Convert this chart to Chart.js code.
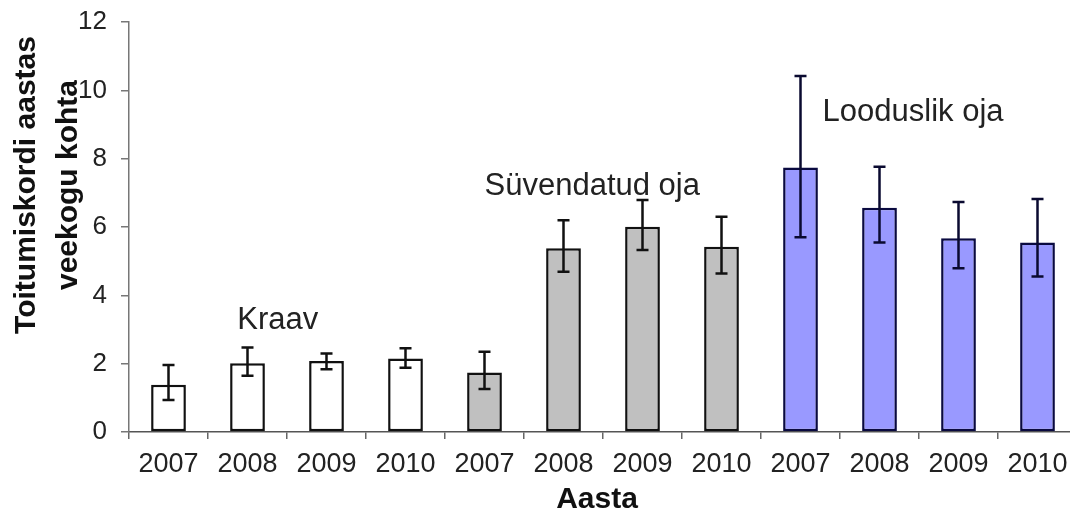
<!DOCTYPE html>
<html>
<head>
<meta charset="utf-8">
<script src="https://cdn.jsdelivr.net/npm/chart.js@4/dist/chart.umd.min.js"></script>
<style>
  html, body { margin: 0; padding: 0; background: #fff; overflow: hidden; }
  #wrap { width: 1070px; height: 510px; overflow: hidden; }
  canvas { display: block; }
</style>
</head>
<body>
<div id="wrap"><canvas id="c" width="1078" height="510"></canvas></div>
<script>
// ---- data ----
const years = ["2007", "2008", "2009", "2010", "2007", "2008", "2009", "2010", "2007", "2008", "2009", "2010"];
const groupOf = [0, 0, 0, 0, 1, 1, 1, 1, 2, 2, 2, 2];
const groupNames = ["Kraav", "Süvendatud oja", "Looduslik oja"];
const means = [1.38, 2.01, 2.08, 2.15, 1.74, 5.38, 6.01, 5.42, 7.74, 6.56, 5.67, 5.55];
const errHigh = [1.96, 2.47, 2.30, 2.45, 2.35, 6.20, 6.79, 6.30, 10.42, 7.76, 6.73, 6.82];
const errLow = [0.94, 1.65, 1.84, 1.88, 1.26, 4.69, 5.33, 4.64, 5.70, 5.55, 4.79, 4.55];
const yTicks = [0, 2, 4, 6, 8, 10, 12];
// annotation anchors in data units: [category position, value]
const labelAnchors = [[0.87, 3.01], [4.0, 6.94], [8.28, 9.1]];
const yTitle = ["Toitumiskordi aastas", "veekogu kohta"];
const xTitle = "Aasta";

// ---- styles ----
const groupFill = ["#ffffff", "#c0c0c0", "#9999ff"];
const groupBorder = ["#111111", "#111111", "#0a0a40"];
const FONT = "'Liberation Sans', Arial, sans-serif";

const errorBarPlugin = {
  id: 'errorBars',
  afterDatasetsDraw(chart) {
    const ctx = chart.ctx;
    const y = chart.scales.y;
    const meta = chart.getDatasetMeta(0);
    ctx.save();
    ctx.lineWidth = 2.5;
    meta.data.forEach((bar, i) => {
      ctx.strokeStyle = groupOf[i] === 2 ? '#0a0a30' : '#111111';
      const x = bar.x;
      const yh = y.getPixelForValue(errHigh[i]);
      const yl = y.getPixelForValue(errLow[i]);
      const cap = 6;
      ctx.beginPath();
      ctx.moveTo(x, yh); ctx.lineTo(x, yl);
      ctx.moveTo(x - cap, yh); ctx.lineTo(x + cap, yh);
      ctx.moveTo(x - cap, yl); ctx.lineTo(x + cap, yl);
      ctx.stroke();
    });
    ctx.restore();
  }
};

const textPlugin = {
  id: 'texts',
  afterDraw(chart) {
    const ctx = chart.ctx;
    const xs = chart.scales.x, ys = chart.scales.y;
    ctx.save();
    // group annotations
    ctx.fillStyle = '#222';
    ctx.font = "31px " + FONT;
    ctx.textAlign = 'left';
    ctx.textBaseline = 'alphabetic';
    labelAnchors.forEach((a, g) => {
      ctx.fillText(groupNames[g], xs.getPixelForValue(a[0]), ys.getPixelForValue(a[1]));
    });
    // y title (rotated, two lines)
    ctx.fillStyle = '#111';
    ctx.font = "bold 30px " + FONT;
    ctx.textAlign = 'center';
    ctx.translate(0, 185);
    ctx.rotate(-Math.PI / 2);
    ctx.fillText(yTitle[0], 0, 35);
    ctx.fillText(yTitle[1], 0, 77);
    ctx.setTransform(1, 0, 0, 1, 0, 0);
    // x title
    ctx.font = "bold 30px " + FONT;
    ctx.textAlign = 'center';
    ctx.fillText(xTitle, 597, 508);
    ctx.restore();
  }
};

new Chart(document.getElementById('c'), {
  type: 'bar',
  data: {
    labels: years,
    datasets: [{
      data: means,
      backgroundColor: groupOf.map(g => groupFill[g]),
      borderColor: groupOf.map(g => groupBorder[g]),
      borderWidth: 2.5,
      borderSkipped: false,
      categoryPercentage: 1.0,
      barPercentage: 0.44
    }]
  },
  options: {
    responsive: false,
    animation: false,
    devicePixelRatio: 1,
    layout: { padding: { top: 22, right: 1, left: 0, bottom: 0 } },
    plugins: { legend: { display: false }, tooltip: { enabled: false } },
    scales: {
      x: {
        offset: true,
        grid: { drawOnChartArea: false, tickLength: 7, color: '#666', lineWidth: 1.5, offset: true },
        border: { color: '#555', width: 1.5 },
        ticks: { color: '#222', font: { family: FONT, size: 27 }, padding: 9, maxRotation: 0, autoSkip: false },
        afterFit(s) { s.height = 78; s.paddingLeft = 0; s.paddingRight = 0; }
      },
      y: {
        min: 0, max: 12,
        afterBuildTicks(s) { s.ticks = yTicks.map(v => ({ value: v })); },
        grid: { drawOnChartArea: false, tickLength: 8, color: '#777', lineWidth: 1.5 },
        border: { color: '#777', width: 1.5 },
        ticks: { color: '#222', font: { family: FONT, size: 26 }, padding: 14 },
        afterFit(s) { s.width = 129; s.paddingTop = 0; s.paddingBottom = 0; }
      }
    }
  },
  plugins: [errorBarPlugin, textPlugin]
});
</script>
</body>
</html>
